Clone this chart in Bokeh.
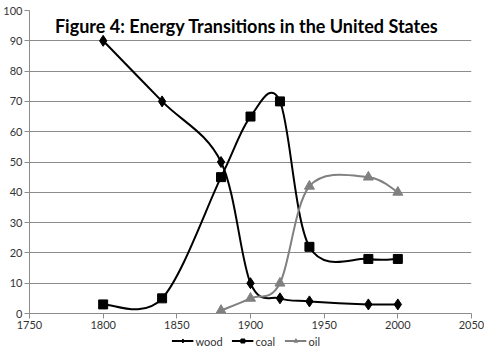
from bokeh.plotting import figure
from bokeh.layouts import column
from bokeh.models import Label, Legend, LegendItem, ColumnDataSource, FixedTicker
from bokeh.embed import file_html
from bokeh.resources import INLINE

years_wood = [1800, 1840, 1880, 1900, 1920, 1940, 1980, 2000]
wood = [90, 70, 50, 10, 5, 4, 3, 3]
years_coal = [1800, 1840, 1880, 1900, 1920, 1940, 1980, 2000]
coal = [3, 5, 45, 65, 70, 22, 18, 18]
years_oil = [1880, 1900, 1920, 1940, 1980, 2000]
oil = [1, 5, 10, 42, 45, 40]
x_ticks = [1750, 1800, 1850, 1900, 1950, 2000, 2050]
y_ticks = list(range(0, 101, 10))
title_text = "Figure 4:  Energy Transitions in the United States"

GRID = "#8c8c8c"
FONT = "Lato"

p = figure(width=484, height=333, x_range=(1750, 2050), y_range=(0, 100),
           output_backend="svg", toolbar_location=None,
           min_border_left=27, min_border_right=13, min_border_top=10, min_border_bottom=20)
p.outline_line_color = None
p.background_fill_color = "white"
p.xgrid.grid_line_color = None
p.ygrid.grid_line_color = GRID
p.ygrid.grid_line_width = 1
p.ygrid.ticker = FixedTicker(ticks=y_ticks)

p.xaxis.ticker = FixedTicker(ticks=x_ticks)
p.yaxis.ticker = FixedTicker(ticks=y_ticks)
for ax in (p.xaxis, p.yaxis):
    ax.axis_line_color = GRID
    ax.major_tick_line_color = GRID
    ax.minor_tick_line_color = None
    ax.major_tick_in = 0
    ax.major_tick_out = 5
    ax.major_label_text_font = FONT
    ax.major_label_text_font_size = "11px"
    ax.major_label_text_color = "#333333"
p.xaxis.major_label_standoff = 2
p.yaxis.major_label_standoff = 2


def smooth(xs, ys):
    n = len(xs)
    x0, y0, x1, y1, cx0, cy0, cx1, cy1 = [], [], [], [], [], [], [], []
    for i in range(n - 1):
        ip = max(i - 1, 0)
        inx = min(i + 2, n - 1)
        x0.append(xs[i]); y0.append(ys[i])
        x1.append(xs[i + 1]); y1.append(ys[i + 1])
        cx0.append(xs[i] + (xs[i + 1] - xs[ip]) / 6.0)
        cy0.append(ys[i] + (ys[i + 1] - ys[ip]) / 6.0)
        cx1.append(xs[i + 1] - (xs[inx] - xs[i]) / 6.0)
        cy1.append(ys[i + 1] - (ys[inx] - ys[i]) / 6.0)
    return ColumnDataSource(dict(x0=x0, y0=y0, x1=x1, y1=y1, cx0=cx0, cy0=cy0, cx1=cx1, cy1=cy1))


series = [
    ("wood", years_wood, wood, "black", "diamond", 11, 8),
    ("coal", years_coal, coal, "black", "square", 9, 7),
    ("oil", years_oil, oil, "#808080", "triangle", 10, 7),
]

for name, xs, ys, col, mk, sz, lsz in series:
    p.bezier(x0="x0", y0="y0", x1="x1", y1="y1", cx0="cx0", cy0="cy0", cx1="cx1", cy1="cy1",
             source=smooth(xs, ys), line_color=col, line_width=2)
for name, xs, ys, col, mk, sz, lsz in series:
    p.scatter(xs, ys, marker=mk, size=sz, fill_color=col, line_color=col)

p.add_layout(Label(x=1899, y=100, text=title_text, text_align="center", text_baseline="alphabetic",
                   y_offset=-15, text_font=FONT, text_font_style="bold", text_font_size="18px",
                   text_color="black"))

# legend strip below the chart
p2 = figure(width=484, height=15, x_range=(0, 1), y_range=(0, 1),
            output_backend="svg", toolbar_location=None, x_axis_type=None, y_axis_type=None,
            min_border_left=12, min_border_right=0, min_border_top=0, min_border_bottom=0)
p2.outline_line_color = None
p2.xgrid.grid_line_color = None
p2.ygrid.grid_line_color = None
items = []
for name, xs, ys, col, mk, sz, lsz in series:
    lr = p2.line(x=[5, 6], y=[5, 6], line_color=col, line_width=2)
    sr = p2.scatter(x=[5], y=[5], marker=mk, size=lsz, fill_color=col, line_color=col)
    items.append(LegendItem(label=name, renderers=[lr, sr]))
legend = Legend(items=items, orientation="horizontal", location="center",
                label_text_font=FONT, label_text_font_size="11px", label_text_color="#333333",
                glyph_width=22, glyph_height=10, label_height=10, label_standoff=2, spacing=9,
                padding=1, margin=0, border_line_color=None, background_fill_alpha=0)
p2.add_layout(legend, "center")

open("out.html", "w").write(file_html(column(p, p2, spacing=0), INLINE))
